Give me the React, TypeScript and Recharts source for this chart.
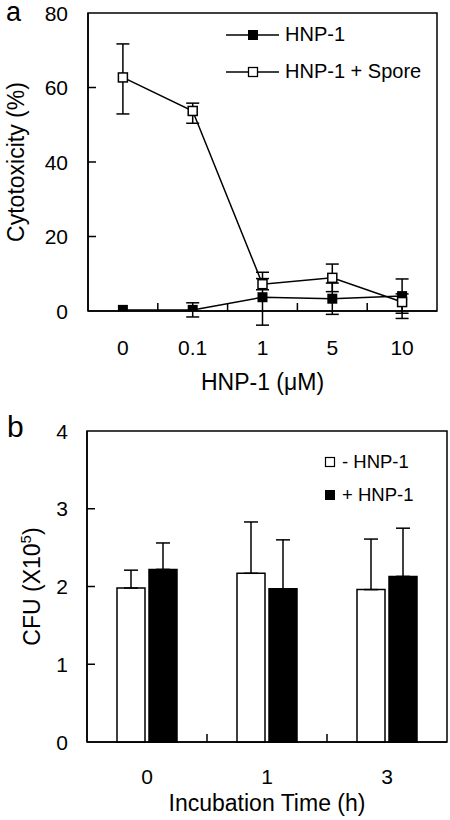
import React from "react";
import { ComposedChart, Line, Bar, XAxis, YAxis, ErrorBar, Legend, Label, ReferenceArea } from "recharts";

// panel a: cytotoxicity vs HNP-1 dose
const doses = ["0", "0.1", "1", "5", "10"];
const hnpOnly = [0.3, 0.3, 3.7, 3.3, 4.0];
const hnpOnlyErr = [null, [1.9, 1.9], [7.5, 6.7], [4.2, 4.2], [4.6, 4.6]];
const hnpSpore = [62.7, 53.7, 7.2, 8.9, 2.4];
const hnpSporeErr = [[9.8, 9.0], [3.3, 2.1], [1.5, 1.5], [3.7, 3.7], [4.4, 2.2]];
const cytoTicks = [0, 20, 40, 60, 80];
const lineSeries = [
  { key: "hnp", name: "HNP-1" },
  { key: "spore", name: "HNP-1 + Spore" },
];

// panel b: CFU vs incubation time
const times = ["0", "1", "3"];
const withoutHnp = [1.98, 2.17, 1.96];
const withoutHnpErr = [0.23, 0.66, 0.65];
const withHnp = [2.22, 1.97, 2.13];
const withHnpErr = [0.34, 0.63, 0.62];
const cfuTicks = [0, 1, 2, 3, 4];
const barSeries = [
  { key: "minus", name: "- HNP-1" },
  { key: "plus", name: "+ HNP-1" },
];

const FONT = "'Liberation Sans', Arial, Helvetica, sans-serif";
const W = 450;

const dataA = doses.map((d, i) => ({
  dose: d,
  hnp: hnpOnly[i],
  hnpErr: hnpOnlyErr[i],
  spore: hnpSpore[i],
  sporeErr: hnpSporeErr[i],
}));

const dataB = times.map((t, i) => ({
  time: t,
  minus: withoutHnp[i],
  minusErr: [0, withoutHnpErr[i]],
  plus: withHnp[i],
  plusErr: [0, withHnpErr[i]],
}));

// layout of the two panels
const chartA = { top: 0, height: 400, margin: { top: 13, right: 13, bottom: 0, left: 0 }, yWidth: 88, xHeight: 89 };
const chartB = { top: 400, height: 420, margin: { top: 31, right: 3, bottom: 0, left: 0 }, yWidth: 87, xHeight: 78 };

const plotBox = (c: typeof chartA) => ({
  left: c.margin.left + c.yWidth,
  top: c.top + c.margin.top,
  width: W - c.margin.left - c.margin.right - c.yWidth,
  height: c.height - c.margin.top - c.margin.bottom - c.xHeight,
});

const axisStroke = { stroke: "#000", strokeWidth: 1.5 };

const makeYTick = (labelGap: number) => (props: any) => (
  <text x={Number(props.x) - labelGap} y={props.y} dy="0.36em" textAnchor="end" fontSize={21} fontFamily={FONT} fill="#000">
    {props.payload.value}
  </text>
);

const makeXTick = (labelDrop: number) => (props: any) => (
  <text x={props.x} y={Number(props.y) + labelDrop} dy="0.36em" textAnchor="middle" fontSize={21} fontFamily={FONT} fill="#000">
    {props.payload.value}
  </text>
);

// frame around the plot area
const frame = (props: any) => (
  <rect x={props.x} y={props.y} width={props.width} height={props.height} fill="none" stroke="#000" strokeWidth={1.5} />
);

// short inward tick marks: at the inner y ticks and between the x categories
const innerMarks = (c: typeof chartA, yTicks: number[], catCount: number) => {
  const p = plotBox(c);
  const yMax = yTicks[yTicks.length - 1];
  const bottom = p.top + p.height;
  const band = p.width / catCount;
  let d = "";
  yTicks.slice(1, -1).forEach((v) => {
    d += `M${p.left},${p.top + p.height * (1 - v / yMax)}h8`;
  });
  for (let k = 1; k < catCount; k++) {
    d += `M${p.left + band * k},${bottom}v-8`;
  }
  return d;
};

const filledSquare = (size: number) => (props: any) => {
  const { cx, cy, index } = props;
  return <rect key={`f${index}`} x={cx - size / 2} y={cy - size / 2} width={size} height={size} fill="#000" />;
};

const hollowSquare = (size: number) => (props: any) => {
  const { cx, cy, index } = props;
  return (
    <rect key={`h${index}`} x={cx - size / 2} y={cy - size / 2} width={size} height={size} fill="#fff" stroke="#000" strokeWidth={1.5} />
  );
};

const LineLegend = () => (
  <div style={{ fontFamily: FONT, fontSize: 20, color: "#000" }}>
    {lineSeries.map((s) => (
      <div key={s.key} style={{ display: "flex", alignItems: "center", height: 37 }}>
        <svg width={54} height={14}>
          <line x1={0} x2={53} y1={7} y2={7} stroke="#000" strokeWidth={1.5} />
          {s.key === "hnp" ? (
            <rect x={22} y={2} width={10} height={10} fill="#000" />
          ) : (
            <rect x={22.5} y={2.5} width={9} height={9} fill="#fff" stroke="#000" strokeWidth={1.3} />
          )}
        </svg>
        <span style={{ marginLeft: 5 }}>{s.name}</span>
      </div>
    ))}
  </div>
);

const BarLegend = () => (
  <div style={{ fontFamily: FONT, fontSize: 18.5, color: "#000" }}>
    {barSeries.map((s) => (
      <div key={s.key} style={{ display: "flex", alignItems: "center", height: 33 }}>
        <svg width={12} height={12}>
          {s.key === "plus" ? (
            <rect x={1} y={1} width={10} height={10} fill="#000" />
          ) : (
            <rect x={1.5} y={1.5} width={9} height={9} fill="#fff" stroke="#000" strokeWidth={1.2} />
          )}
        </svg>
        <span style={{ marginLeft: 6 }}>{s.name}</span>
      </div>
    ))}
  </div>
);

const yTitle = (text: React.ReactNode, baselineX: number) => (props: any) => {
  const { viewBox } = props;
  const cy = viewBox.y + viewBox.height / 2;
  return (
    <text
      x={baselineX}
      y={cy}
      transform={`rotate(-90, ${baselineX}, ${cy})`}
      textAnchor="middle"
      fontSize={23}
      fontFamily={FONT}
      fill="#000"
    >
      {text}
    </text>
  );
};

const xTitle = (text: string, baselineDrop: number) => (props: any) => {
  const { viewBox } = props;
  return (
    <text
      x={viewBox.x + viewBox.width / 2}
      y={viewBox.y + baselineDrop}
      textAnchor="middle"
      fontSize={23}
      fontFamily={FONT}
      fill="#000"
    >
      {text}
    </text>
  );
};

export default function App() {
  return (
    <div style={{ position: "absolute", left: 0, top: 0, width: W, height: 820, background: "#fff", fontFamily: FONT }}>
      <svg width={W} height={820} style={{ position: "absolute", left: 0, top: 0 }}>
        <text x={6} y={21} fontSize={27} fontFamily={FONT} fill="#000">a</text>
        <text x={7} y={437} fontSize={30} fontFamily={FONT} fill="#000">b</text>
      </svg>

      <div style={{ position: "absolute", left: 0, top: chartA.top }}>
        <ComposedChart width={W} height={chartA.height} data={dataA} margin={chartA.margin}>
          <XAxis
            dataKey="dose"
            scale="band"
            height={chartA.xHeight}
            interval={0}
            tickSize={0}
            tickMargin={0}
            tickLine={false}
            axisLine={axisStroke}
            tick={makeXTick(36)}
          >
            <Label content={xTitle("HNP-1 (\u03bcM)", 79)} />
          </XAxis>
          <YAxis
            width={chartA.yWidth}
            domain={[0, 80]}
            allowDataOverflow
            ticks={cytoTicks}
            interval={0}
            tickSize={0}
            tickMargin={0}
            tickLine={false}
            axisLine={axisStroke}
            tick={makeYTick(20)}
          >
            <Label content={yTitle("Cytotoxicity (%)", 24)} />
          </YAxis>
          <ReferenceArea y1={0} y2={80} shape={frame} />
          <Legend
            layout="vertical"
            align="center"
            verticalAlign="middle"
            wrapperStyle={{ top: 16, left: 226, width: "auto" }}
            content={<LineLegend />}
          />
          <Line
            dataKey="hnp"
            name="HNP-1"
            type="linear"
            stroke="#000"
            strokeWidth={1.5}
            dot={filledSquare(10)}
            activeDot={false}
            isAnimationActive={false}
          >
            <ErrorBar dataKey="hnpErr" direction="y" width={6.5} stroke="#000" strokeWidth={1.5} />
          </Line>
          <Line
            dataKey="spore"
            name="HNP-1 + Spore"
            type="linear"
            stroke="#000"
            strokeWidth={1.5}
            dot={hollowSquare(9)}
            activeDot={false}
            isAnimationActive={false}
          >
            <ErrorBar dataKey="sporeErr" direction="y" width={6.5} stroke="#000" strokeWidth={1.5} />
          </Line>
        </ComposedChart>
      </div>

      <div style={{ position: "absolute", left: 0, top: chartB.top }}>
        <ComposedChart width={W} height={chartB.height} data={dataB} margin={chartB.margin} barGap={4}>
          <XAxis
            dataKey="time"
            height={chartB.xHeight}
            interval={0}
            tickSize={0}
            tickMargin={0}
            tickLine={false}
            axisLine={axisStroke}
            tick={makeXTick(34)}
          >
            <Label content={xTitle("Incubation Time (h)", 69)} />
          </XAxis>
          <YAxis
            width={chartB.yWidth}
            domain={[0, 4]}
            ticks={cfuTicks}
            interval={0}
            tickSize={0}
            tickMargin={0}
            tickLine={false}
            axisLine={axisStroke}
            tick={makeYTick(19)}
          >
            <Label
              content={yTitle(
                <>
                  CFU (X10<tspan dy={-9} fontSize={15}>5</tspan>
                  <tspan dy={9}>)</tspan>
                </>,
                40
              )}
            />
          </YAxis>
          <ReferenceArea y1={0} y2={4} shape={frame} />
          <Legend
            layout="vertical"
            align="center"
            verticalAlign="middle"
            wrapperStyle={{ top: 45, left: 324, width: "auto" }}
            content={<BarLegend />}
          />
          <Bar dataKey="minus" name="- HNP-1" fill="#fff" stroke="#000" strokeWidth={1.5} barSize={28} isAnimationActive={false}>
            <ErrorBar dataKey="minusErr" direction="y" width={7} stroke="#000" strokeWidth={1.5} />
          </Bar>
          <Bar dataKey="plus" name="+ HNP-1" fill="#000" stroke="#000" strokeWidth={1.5} barSize={28} isAnimationActive={false}>
            <ErrorBar dataKey="plusErr" direction="y" width={7} stroke="#000" strokeWidth={1.5} />
          </Bar>
        </ComposedChart>
      </div>

      {/* inward tick marks, laid over both panels */}
      <svg width={W} height={820} style={{ position: "absolute", left: 0, top: 0, pointerEvents: "none" }}>
        <path d={innerMarks(chartA, cytoTicks, doses.length)} stroke="#000" strokeWidth={1.5} fill="none" />
        <path d={innerMarks(chartB, cfuTicks, times.length)} stroke="#000" strokeWidth={1.5} fill="none" />
      </svg>
    </div>
  );
}
